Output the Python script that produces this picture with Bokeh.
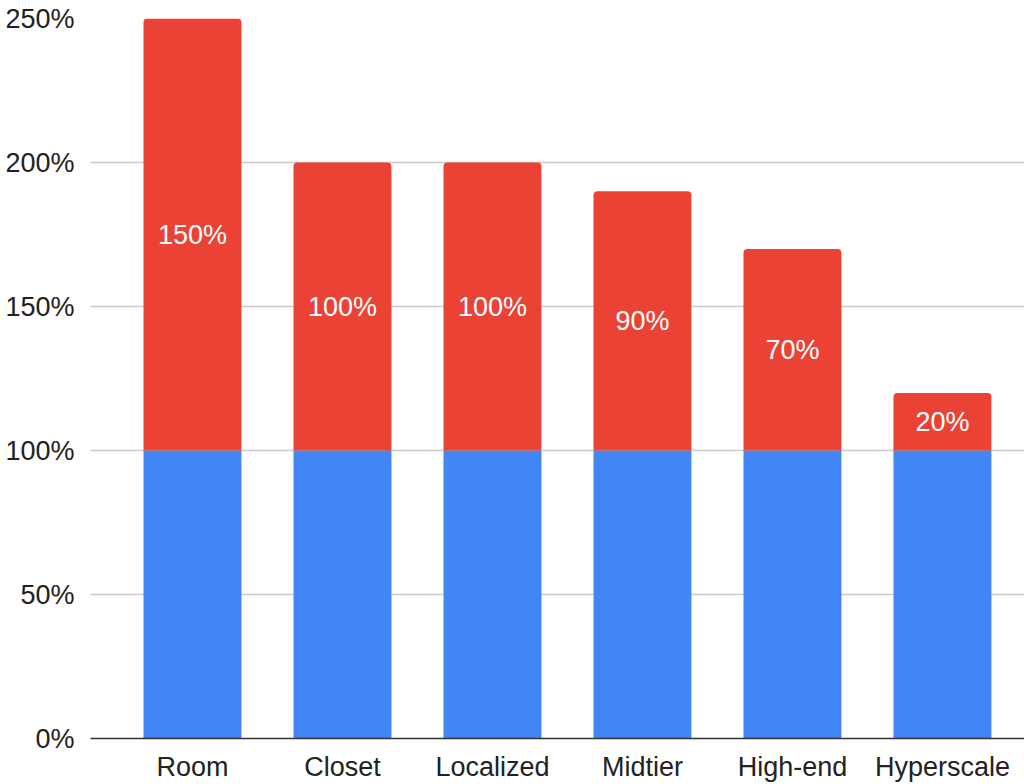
from bokeh.plotting import figure
from bokeh.models import ColumnDataSource, Range1d, FixedTicker
from bokeh.core.properties import value
from bokeh.embed import file_html
from bokeh.resources import INLINE

categories = ["Room", "Closet", "Localized", "Midtier", "High-end", "Hyperscale"]
base_pct = [100, 100, 100, 100, 100, 100]
extra_pct = [150, 100, 100, 90, 70, 20]
extra_labels = ["150%", "100%", "100%", "90%", "70%", "20%"]
y_ticks = [0, 50, 100, 150, 200, 250]

xs = list(range(len(categories)))
totals = [b + e for b, e in zip(base_pct, extra_pct)]
label_y = [b + e / 2 for b, e in zip(base_pct, extra_pct)]

src = ColumnDataSource(dict(x=xs, base=base_pct, total=totals, zero=[0] * len(xs),
                            ly=label_y, lab=extra_labels))

FONT = "Liberation Sans"
FS = "27px"

p = figure(frame_width=934, frame_height=720, output_backend="svg", toolbar_location=None,
           x_range=Range1d(-0.68, 5.547), y_range=Range1d(0, 250),
           min_border_left=90, min_border_right=0, min_border_top=18, min_border_bottom=40)
p.outline_line_color = None
p.background_fill_color = "white"

p.vbar(x="x", bottom="zero", top="base", width=0.653, source=src,
       fill_color="#4285F4", line_color=None)
p.vbar(x="x", bottom="base", top="total", width=0.653, source=src,
       fill_color="#EA4335", line_color=None, border_radius=(4, 4, 0, 0))
p.text(x="x", y="ly", text="lab", source=src, text_color="white",
       text_font=value(FONT), text_font_size=FS,
       text_align="center", text_baseline="middle")

p.xgrid.grid_line_color = None
p.ygrid.grid_line_color = "#cccccc"
p.ygrid.grid_line_width = 1.5
p.ygrid.ticker = FixedTicker(ticks=y_ticks)

p.yaxis.ticker = FixedTicker(ticks=y_ticks)
p.yaxis.major_label_overrides = {t: f"{t}%" for t in y_ticks}
p.yaxis.axis_line_color = None
p.yaxis.major_tick_line_color = None
p.yaxis.minor_tick_line_color = None
p.yaxis.major_label_text_font = FONT
p.yaxis.major_label_text_font_size = FS
p.yaxis.major_label_text_color = "#222222"
p.yaxis.major_label_standoff = 10

p.xaxis.ticker = FixedTicker(ticks=xs)
p.xaxis.major_label_overrides = {i: c for i, c in zip(xs, categories)}
p.xaxis.axis_line_color = "#333333"
p.xaxis.axis_line_width = 1.5
p.xaxis.major_tick_line_color = None
p.xaxis.minor_tick_line_color = None
p.xaxis.major_label_text_font = FONT
p.xaxis.major_label_text_font_size = FS
p.xaxis.major_label_text_color = "#222222"
p.xaxis.major_label_standoff = 7

open("out.html", "w").write(file_html(p, INLINE))
